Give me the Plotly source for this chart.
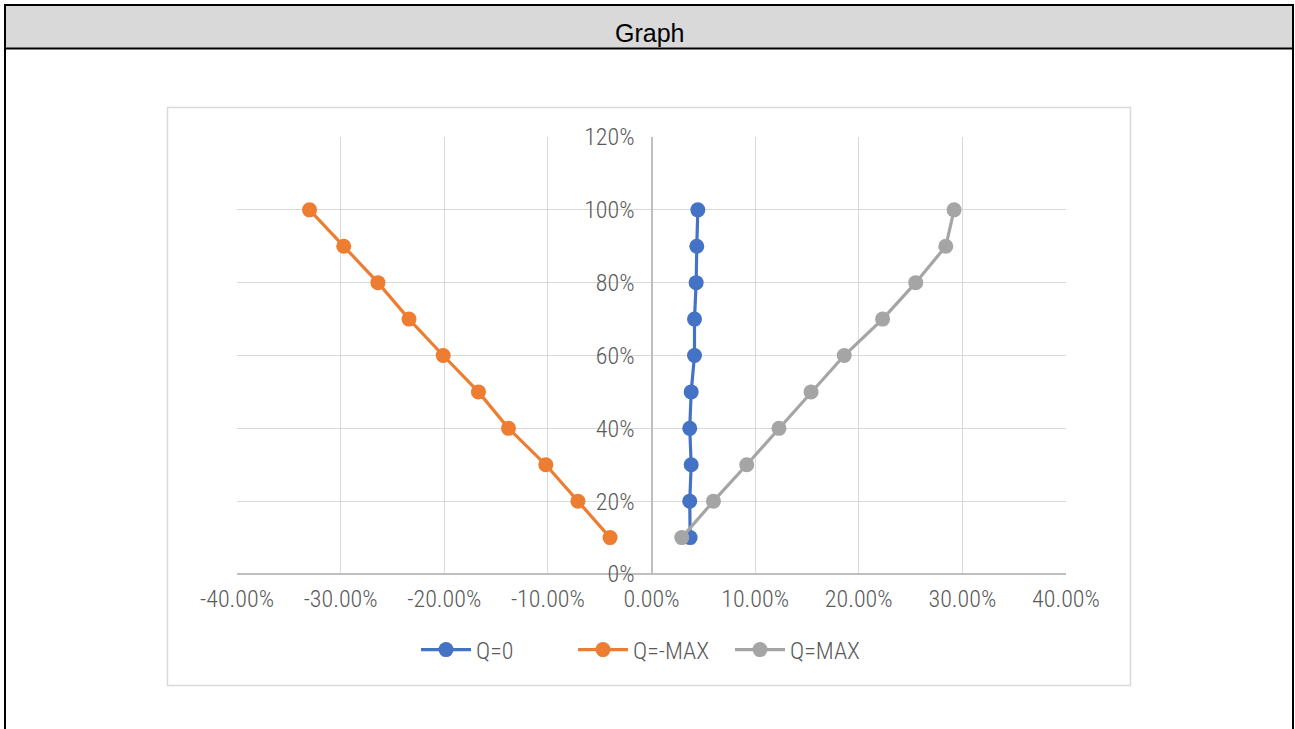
import plotly.graph_objects as go

# ---- data (fractions) ----
levels = [0.1, 0.2, 0.3, 0.4, 0.5, 0.6, 0.7, 0.8, 0.9, 1.0]
q_zero = [0.0373, 0.0369, 0.0383, 0.0369, 0.0383, 0.0415, 0.0415, 0.0431, 0.0437, 0.0447]
q_neg_max = [-0.040, -0.071, -0.102, -0.138, -0.167, -0.201, -0.234, -0.264, -0.297, -0.330]
q_max = [0.0292, 0.0598, 0.0919, 0.1230, 0.1540, 0.1860, 0.2230, 0.2550, 0.2840, 0.2920]

series_names = ["Q=0", "Q=-MAX", "Q=MAX"]
series_colors = ["#4472C4", "#ED7D31", "#A5A5A5"]

x_tickvals = [-0.4, -0.3, -0.2, -0.1, 0.0, 0.1, 0.2, 0.3, 0.4]
x_ticktext = ["-40.00%", "-30.00%", "-20.00%", "-10.00%", "0.00%", "10.00%", "20.00%", "30.00%", "40.00%"]
y_tickvals = [0.0, 0.2, 0.4, 0.6, 0.8, 1.0, 1.2]
y_ticktext = ["0%", "20%", "40%", "60%", "80%", "100%", "120%"]

title_text = "Graph"

# ---- layout geometry (pixels) ----
W, H = 1295, 729
PL, PR, PT, PB = 237, 1066, 137, 574  # plot area
pw, ph = PR - PL, PB - PT


def px(x):
    return (x - PL) / pw


def py(y):
    return (PB - y) / ph


narrow = "Liberation Sans Narrow, Arial Narrow, Roboto Condensed, DejaVu Sans Condensed, sans-serif"
tick_font = dict(family=narrow, size=24, color="#595959", weight=300)

fig = go.Figure()
for name, xs, color in zip(series_names, [q_zero, q_neg_max, q_max], series_colors):
    fig.add_trace(go.Scatter(
        x=xs, y=levels, name=name, mode="lines+markers",
        line=dict(color=color, width=3.2),
        marker=dict(color=color, size=15),
    ))

shapes = [
    # outer frame
    dict(type="rect", xref="paper", yref="paper", x0=px(5), x1=px(1293), y0=py(760), y1=py(5),
         line=dict(color="black", width=2), fillcolor="rgba(0,0,0,0)", layer="below"),
    # title bar
    dict(type="rect", xref="paper", yref="paper", x0=px(5), x1=px(1293), y0=py(48.5), y1=py(5),
         line=dict(color="black", width=2), fillcolor="#D9D9D9", layer="below"),
    # chart area box
    dict(type="rect", xref="paper", yref="paper", x0=px(167.5), x1=px(1130.5), y0=py(685.5), y1=py(107.5),
         line=dict(color="#D9D9D9", width=1.5), fillcolor="rgba(0,0,0,0)", layer="below"),
]

fig.update_layout(
    width=W, height=H,
    margin=dict(l=PL, r=W - PR, t=PT, b=H - PB, pad=0),
    paper_bgcolor="white", plot_bgcolor="white",
    showlegend=True,
    legend=dict(orientation="h", x=0.5, xanchor="center", y=py(650), yanchor="middle",
                font=dict(family=narrow, size=24, color="#595959", weight=300),
                bgcolor="rgba(0,0,0,0)", itemwidth=50, tracegroupgap=0,
                entrywidth=92, entrywidthmode="pixels"),
    xaxis=dict(range=[-0.4, 0.4], tickvals=x_tickvals, ticktext=x_ticktext,
               showgrid=True, gridcolor="#D9D9D9", gridwidth=1,
               zeroline=True, zerolinecolor="#BFBFBF", zerolinewidth=1.5,
               showline=False, ticks="", tickfont=tick_font, ticklabelstandoff=8,
               fixedrange=True),
    yaxis=dict(range=[0, 1.2], tickvals=y_tickvals, ticktext=y_ticktext,
               showgrid=True, gridcolor="#D9D9D9", gridwidth=1,
               zeroline=True, zerolinecolor="#BFBFBF", zerolinewidth=1.5,
               showline=False, ticks="", tickfont=tick_font,
               anchor="free", position=0.5, ticklabelstandoff=17, fixedrange=True),
    shapes=shapes,
    annotations=[dict(text=title_text, xref="paper", yref="paper", x=px(649), y=py(33),
                      xanchor="center", yanchor="middle", showarrow=False,
                      font=dict(family="Arial, Liberation Sans, sans-serif", size=25, color="black"))],
)

fig.write_html(
    "out.html",
    config={"displayModeBar": False},
    post_script="document.body.style.margin='0';document.body.style.overflow='hidden';",
)
